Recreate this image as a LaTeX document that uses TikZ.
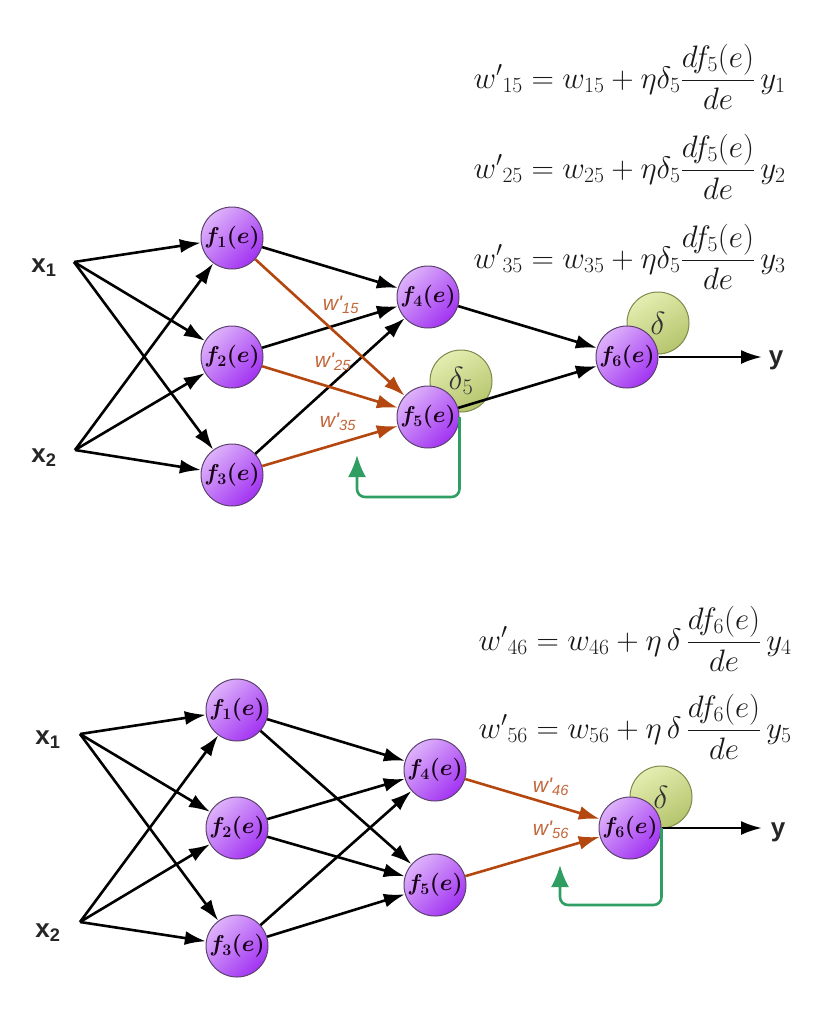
\RequirePackage{fix-cm}
\documentclass[tikz,border=0pt]{standalone}
\usepackage{fontspec}
\usepackage{amsmath}
\newfontfamily\arial{Liberation Sans}
\usetikzlibrary{arrows.meta}
\definecolor{nlight}{HTML}{DDB2FA}
\definecolor{ndark}{HTML}{A233F2}
\definecolor{nedge}{HTML}{5E4270}
\definecolor{dlight}{HTML}{E4EDB0}
\definecolor{ddark}{HTML}{B5C56C}
\definecolor{dedge}{HTML}{7C8A4C}
\definecolor{wcol}{HTML}{B4470F}
\definecolor{wtext}{HTML}{C2663A}
\definecolor{bcol}{HTML}{2F9E63}

\begin{document}
\begin{tikzpicture}[x=1pt,y=-1pt,
    neuron/.style={circle,draw=nedge,line width=1pt,minimum size=62pt,inner sep=0pt,
      top color=nlight,bottom color=ndark,shading angle=45,text=black!80!violet,
      font=\fontsize{23}{23}\selectfont\boldmath},
    deltaball/.style={circle,draw=dedge,line width=1pt,minimum size=62pt,inner sep=0pt,
      top color=dlight,bottom color=ddark,shading angle=30,text=black!80,
      font=\fontsize{32}{32}\selectfont},
    fwd/.style={line width=2.6pt,-{Latex[length=21pt,width=14pt]}},
    upd/.style={fwd,wcol},
    back/.style={bcol,line width=2.6pt,rounded corners=8pt,-{Latex[length=22pt,width=18pt]}},
    inlabel/.style={font=\arial\bfseries\fontsize{26}{26}\selectfont,text=black!85},
    wlabel/.style={font=\arial\itshape\fontsize{21}{21}\selectfont,text=wtext},
    eqn/.style={anchor=base west,text=black!90,font=\fontsize{31}{34}\selectfont}]
  \useasboundingbox (0,0) rectangle (832,1010);

  % upper network
  \node[eqn] (e15) at (470,88) {$ {w'}_{15} = w_{15} + \eta\delta_5 \dfrac{df_5(e)}{de}\, y_1 $};
  \node[eqn] (e25) at (470,178) {$ {w'}_{25} = w_{25} + \eta\delta_5 \dfrac{df_5(e)}{de}\, y_2 $};
  \node[eqn] (e35) at (470,268) {$ {w'}_{35} = w_{35} + \eta\delta_5 \dfrac{df_5(e)}{de}\, y_3 $};

  \node[inlabel] (lx1) at (44,268) {x\textsubscript{1}};
  \node[inlabel] (lx2) at (44,458) {x\textsubscript{2}};
  \coordinate (xa1) at (74,262);
  \coordinate (xa2) at (75,450);

  \node[deltaball] (dt5) at (461,381) {$\delta_5$};
  \node[deltaball] (dt6) at (658,323) {$\delta$};

  \node[neuron] (f1) at (232,238) {$f_1(e)$};
  \node[neuron] (f2) at (232,357) {$f_2(e)$};
  \node[neuron] (f3) at (232,475) {$f_3(e)$};
  \node[neuron] (f4) at (428,297) {$f_4(e)$};
  \node[neuron] (f5) at (428,417) {$f_5(e)$};
  \node[neuron] (f6) at (627,357) {$f_6(e)$};
  \node[inlabel] (ly1) at (776,360) {y};
  \coordinate (ya) at (762,357);
  \coordinate (fba) at (357,455);

  \draw[fwd] (xa1) -- (f1);
  \draw[fwd] (xa1) -- (f2);
  \draw[fwd] (xa1) -- (f3);
  \draw[fwd] (xa2) -- (f1);
  \draw[fwd] (xa2) -- (f2);
  \draw[fwd] (xa2) -- (f3);
  \draw[fwd] (f1) -- (f4);
  \draw[fwd] (f2) -- (f4);
  \draw[fwd] (f3) -- (f4);
  \draw[upd] (f1) -- (f5);
  \draw[upd] (f2) -- (f5);
  \draw[upd] (f3) -- (f5);
  \draw[fwd] (f4) -- (f6);
  \draw[fwd] (f5) -- (f6);
  \draw[fwd] (f6.east) -- (ya);
  \draw[back] (f5.east) -- (f5.east |- 0,497) -| (fba);
  \node[wlabel] (w15) at (341,305) {w'\textsubscript{15}};
  \node[wlabel] (w25) at (333,362) {w'\textsubscript{25}};
  \node[wlabel] (w35) at (338,422) {w'\textsubscript{35}};

  % lower network
  \node[eqn] (e46) at (475,650) {$ {w'}_{46} = w_{46} + \eta\,\delta\, \dfrac{df_6(e)}{de}\, y_4 $};
  \node[eqn] (e56) at (475,738) {$ {w'}_{56} = w_{56} + \eta\,\delta\, \dfrac{df_6(e)}{de}\, y_5 $};

  \node[inlabel] (lx3) at (48,740) {x\textsubscript{1}};
  \node[inlabel] (lx4) at (48,933) {x\textsubscript{2}};
  \coordinate (xb1) at (80,734);
  \coordinate (xb2) at (80,922);

  \node[deltaball] (db6) at (661,797) {$\delta$};

  \node[neuron] (g1) at (237,710) {$f_1(e)$};
  \node[neuron] (g2) at (237,828) {$f_2(e)$};
  \node[neuron] (g3) at (237,946) {$f_3(e)$};
  \node[neuron] (g4) at (435,770) {$f_4(e)$};
  \node[neuron] (g5) at (435,885) {$f_5(e)$};
  \node[neuron] (g6) at (630,828) {$f_6(e)$};
  \node[inlabel] (ly2) at (778,832) {y};
  \coordinate (yb) at (762,828);
  \coordinate (fbb) at (560,865);

  \draw[fwd] (xb1) -- (g1);
  \draw[fwd] (xb1) -- (g2);
  \draw[fwd] (xb1) -- (g3);
  \draw[fwd] (xb2) -- (g1);
  \draw[fwd] (xb2) -- (g2);
  \draw[fwd] (xb2) -- (g3);
  \draw[fwd] (g1) -- (g4);
  \draw[fwd] (g1) -- (g5);
  \draw[fwd] (g2) -- (g4);
  \draw[fwd] (g2) -- (g5);
  \draw[fwd] (g3) -- (g4);
  \draw[fwd] (g3) -- (g5);
  \draw[upd] (g4) -- (g6);
  \draw[upd] (g5) -- (g6);
  \draw[fwd] (g6.east) -- (yb);
  \draw[back] (g6.east) -- (g6.east |- 0,905) -| (fbb);
  \node[wlabel] (w46) at (551,787) {w'\textsubscript{46}};
  \node[wlabel] (w56) at (551,830) {w'\textsubscript{56}};
\end{tikzpicture}
\end{document}
